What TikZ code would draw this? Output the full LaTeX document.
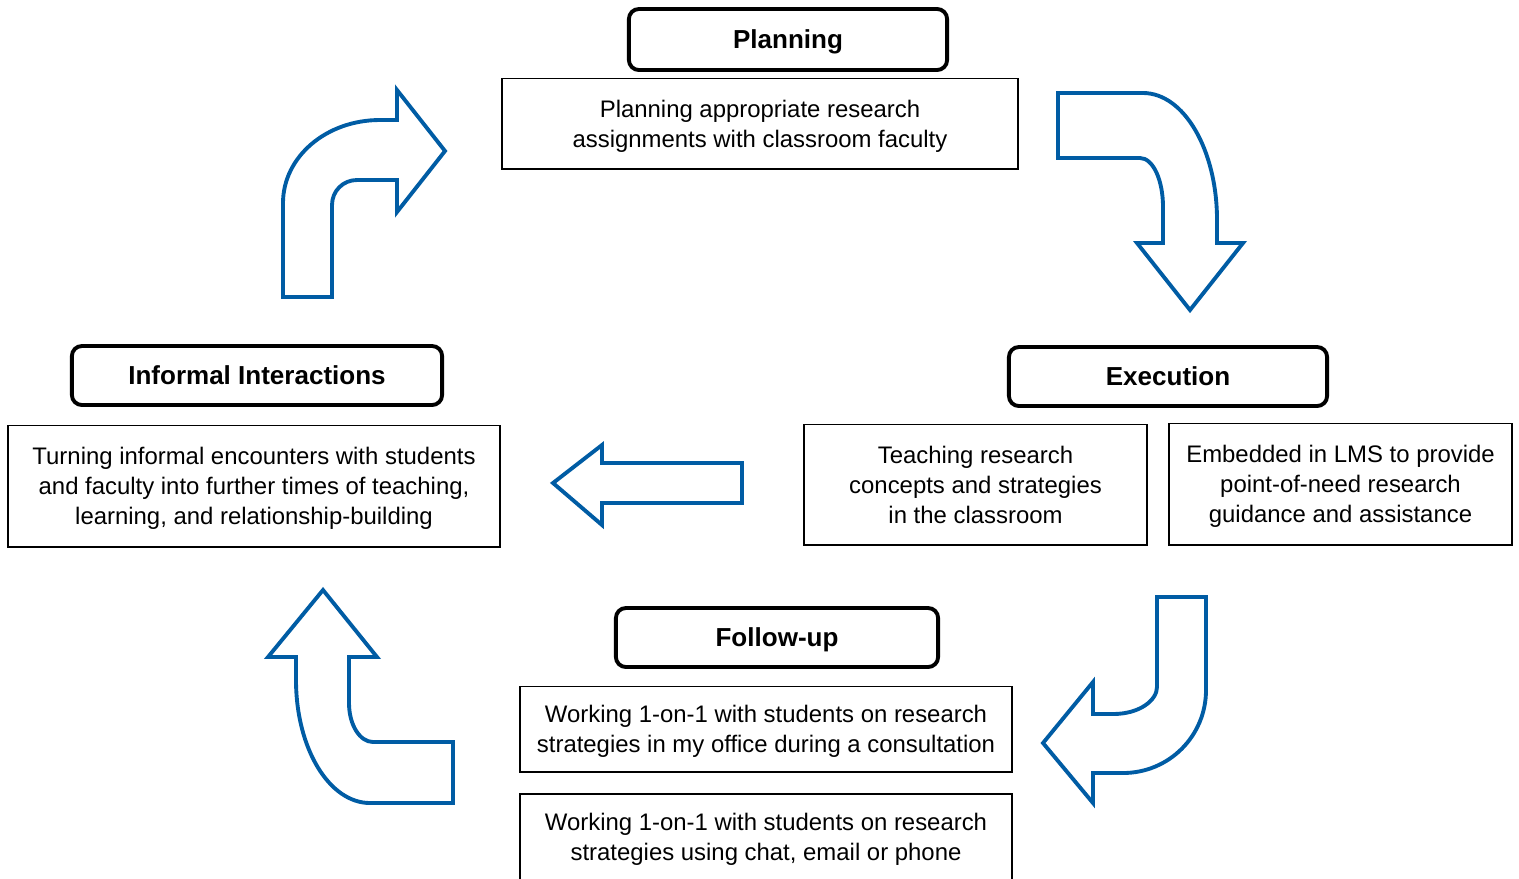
\documentclass[tikz,border=0pt]{standalone}
\usepackage{fontspec}
\setmainfont{Liberation Sans}
\usepackage{tikz}
\definecolor{flowblue}{RGB}{0,92,164}

\begin{document}
\begin{tikzpicture}[x=0.01cm, y=-0.01cm,
    title/.style={draw, line width=1.1pt, rounded corners=1mm, inner sep=0pt, text depth=0pt,
      font=\fontsize{7.4}{9}\selectfont\bfseries},
    desc/.style={draw, line width=0.55pt, align=center, inner sep=0pt, text depth=0pt,
      font=\fontsize{6.8}{8.5}\selectfont},
    flowarrow/.style={draw=flowblue, line width=1.1pt, line join=miter}]
    \useasboundingbox (0,0) rectangle (1519,878);

    % stages
    \node[title, minimum width=3.18cm, minimum height=0.61cm] (planning) at (788,39.5) {Planning};
    \node[desc, minimum width=5.15cm, minimum height=0.9cm] (planningtext) at (760,123.5)
      {Planning appropriate research\\assignments with classroom faculty};

    \node[title, minimum width=3.18cm, minimum height=0.59cm] (execution) at (1168,376.5) {Execution};
    \node[desc, minimum width=3.42cm, minimum height=1.2cm] (teaching) at (975.5,484.5)
      {Teaching research\\concepts and strategies\\in the classroom};
    \node[desc, minimum width=3.42cm, minimum height=1.21cm] (embedded) at (1340.5,484)
      {Embedded in LMS to provide\\point-of-need research\\guidance and assistance};

    \node[title, minimum width=3.22cm, minimum height=0.59cm] (followup) at (777,637.5) {Follow-up};
    \node[desc, minimum width=4.91cm, minimum height=0.85cm] (office) at (766,729)
      {Working 1-on-1 with students on research\\strategies in my office during a consultation};
    \node[desc, minimum width=4.91cm, minimum height=0.86cm] (online) at (766,837)
      {Working 1-on-1 with students on research\\strategies using chat, email or phone};

    \node[title, minimum width=3.7cm, minimum height=0.59cm] (informal) at (257,375.5) {Informal Interactions};
    \node[desc, minimum width=4.91cm, minimum height=1.21cm] (turning) at (254,486)
      {Turning informal encounters with students\\and faculty into further times of teaching,\\learning, and relationship-building};

    % block arrows
    \draw[flowarrow] (283,297) -- (283,203) .. controls (283,157) and (326,120) .. (380,120)
      -- (397,120) -- (397,90) -- (445,151) -- (397,212) -- (397,180) -- (357,180)
      .. controls (343,180) and (332,191) .. (332,205) -- (332,297) -- cycle;
    \draw[flowarrow] (1058,93) -- (1143,93) .. controls (1184,93) and (1217,150) .. (1217,220)
      -- (1217,243) -- (1243,243) -- (1190,310) -- (1137,243) -- (1163,243) -- (1163,207)
      .. controls (1163,180) and (1153,158) .. (1140,158) -- (1058,158) -- cycle;
    \draw[flowarrow] (1157,597) -- (1206,597) -- (1206,690) .. controls (1206,736) and (1169,773) .. (1123,773)
      -- (1093,773) -- (1093,803) -- (1043,743) -- (1093,682) -- (1093,714) -- (1113,714)
      .. controls (1140,714) and (1157,700) .. (1157,687) -- cycle;
    \draw[flowarrow] (323,590) -- (377,657) -- (349,657) -- (349,703)
      .. controls (349,725) and (360,742) .. (373,742) -- (453,742) -- (453,803) -- (370,803)
      .. controls (329,803) and (296,748) .. (296,680) -- (296,657) -- (268,657) -- cycle;
    \draw[flowarrow] (553,483) -- (602,445) -- (602,463) -- (742,463) -- (742,503)
      -- (602,503) -- (602,525) -- cycle;
\end{tikzpicture}
\end{document}
